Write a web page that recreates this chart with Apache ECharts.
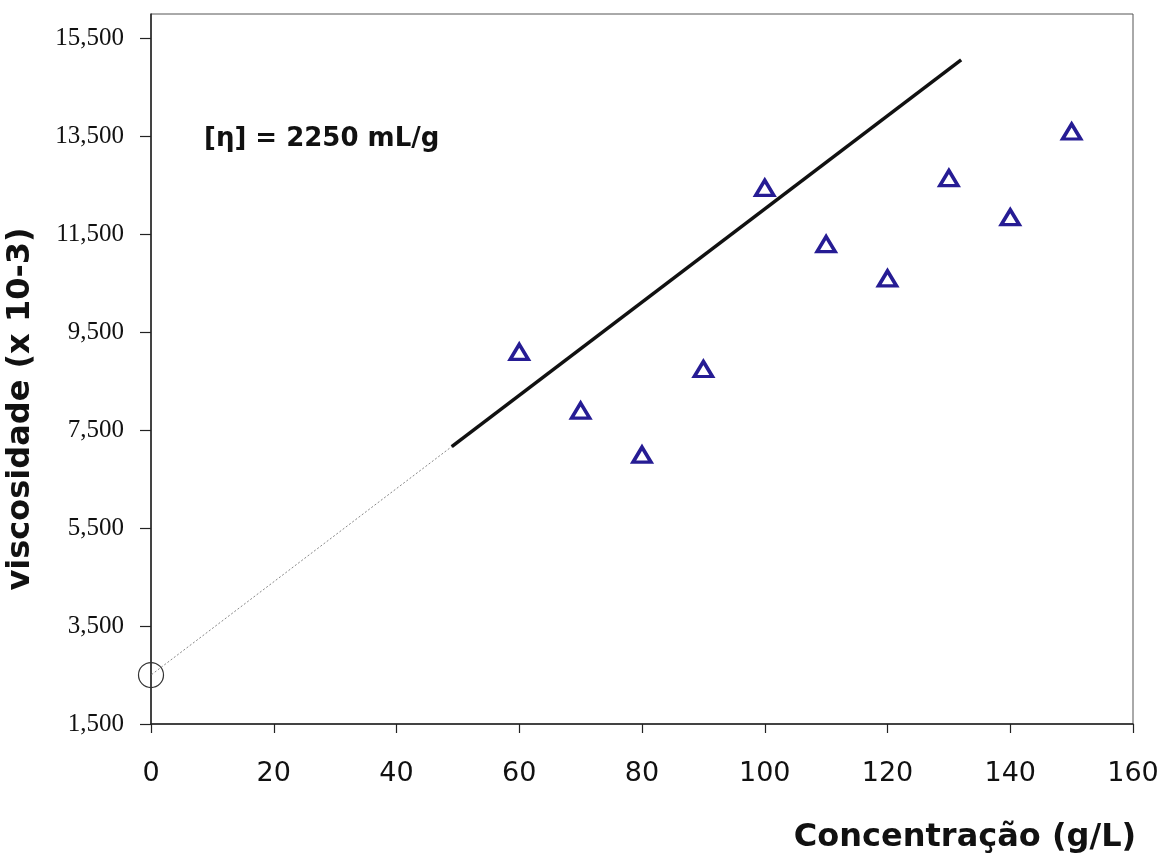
<!DOCTYPE html>
<html>
<head>
<meta charset="utf-8">
<title>viscosidade x concentração</title>
<script src="https://cdn.jsdelivr.net/npm/echarts@6/dist/echarts.min.js"></script>
<style>
    html, body { margin: 0; padding: 0; background: #fff; }
    #chart { width: 1160px; height: 855px; }
</style>
</head>
<body>
<div id="chart"></div>
<script>
// 浓度 (g/L) 与 粘度 读数
var concentracao = [60, 70, 80, 90, 100, 110, 120, 130, 140, 150];
var viscosidade = [9100, 7900, 7000, 8750, 12450, 11300, 10600, 12650, 11850, 13600];

// 拟合直线: 实线段, 外推虚线段, 截距点
var retaSolida = [[49, 7165], [132, 15065]];
var retaExtrapolada = [[-2.5, 2262], [49, 7165]];
var intercepto = [[0, 2500]];

// 坐标轴刻度
var yTicks = [1500, 3500, 5500, 7500, 9500, 11500, 13500, 15500];
var xTicks = [0, 20, 40, 60, 80, 100, 120, 140, 160];

var anotacao = '[η] = 2250 mL/g';

(function (window, echarts) {
    var SANS = '"DejaVu Sans", "Liberation Sans", Arial, sans-serif';
    var SERIF = '"Liberation Serif", "Times New Roman", serif';

    function buildPoints() {
        return concentracao.map(function (c, i) {
            return [c, viscosidade[i]];
        });
    }

    function drawChart(dom) {
        var chart = echarts.init(dom, null, { renderer: 'canvas' });
        chart.setOption({
            animation: false,
            backgroundColor: '#fff',
            grid: {
                left: 151,
                right: 27,
                top: 14,
                bottom: 131,
                containLabel: false,
                outerBoundsMode: 'none',
                show: true,
                borderColor: '#555',
                borderWidth: 1
            },
            xAxis: {
                type: 'value',
                min: xTicks[0],
                max: xTicks[xTicks.length - 1],
                interval: 20,
                name: 'Concentração (g/L)',
                nameLocation: 'middle',
                nameGap: 98,
                nameTextStyle: {
                    fontFamily: SANS,
                    fontWeight: 'bold',
                    fontSize: 32,
                    color: '#111',
                    padding: [0, 0, 0, 646]
                },
                axisLine: { onZero: false, lineStyle: { color: '#222', width: 1.5 } },
                axisTick: { inside: false, length: 9, lineStyle: { color: '#222', width: 1.2 } },
                axisLabel: {
                    margin: 36,
                    fontFamily: SANS,
                    fontSize: 27,
                    color: '#111'
                },
                splitLine: { show: false }
            },
            yAxis: {
                type: 'value',
                min: 1500,
                max: 16000,
                name: 'viscosidade (x 10-3)',
                nameLocation: 'middle',
                nameGap: 114,
                nameTextStyle: {
                    fontFamily: SANS,
                    fontWeight: 'bold',
                    fontSize: 32,
                    color: '#111',
                    padding: [0, 80, 0, 0]
                },
                axisLine: { onZero: false, lineStyle: { color: '#222', width: 1.5 } },
                axisTick: {
                    inside: false,
                    length: 11,
                    customValues: yTicks,
                    lineStyle: { color: '#222', width: 1.2 }
                },
                axisLabel: {
                    margin: 27,
                    customValues: yTicks,
                    fontFamily: SERIF,
                    fontSize: 25,
                    color: '#111',
                    formatter: function (v) {
                        return Number(v).toLocaleString('en-US');
                    }
                },
                splitLine: { show: false }
            },
            graphic: [
                {
                    type: 'text',
                    left: 204,
                    top: 126,
                    style: {
                        text: anotacao,
                        font: 'bold 26px ' + SANS,
                        fill: '#111'
                    }
                }
            ],
            series: [
                {
                    name: 'extrapolada',
                    type: 'line',
                    data: retaExtrapolada,
                    clip: false,
                    showSymbol: false,
                    lineStyle: { color: '#888', width: 1, type: [2, 2] },
                    z: 2
                },
                {
                    name: 'ajuste',
                    type: 'line',
                    data: retaSolida,
                    showSymbol: false,
                    lineStyle: { color: '#111', width: 3.5 },
                    z: 3
                },
                {
                    name: 'intercepto',
                    type: 'scatter',
                    data: intercepto,
                    clip: false,
                    symbol: 'circle',
                    symbolSize: 25,
                    itemStyle: { color: 'rgba(0,0,0,0)', borderColor: '#333', borderWidth: 1.2, opacity: 1 },
                    z: 4
                },
                {
                    name: 'dados',
                    type: 'scatter',
                    data: buildPoints(),
                    symbol: 'triangle',
                    symbolSize: [18, 15],
                    itemStyle: { color: '#fff', borderColor: '#261c94', borderWidth: 3.5, opacity: 1 },
                    z: 5
                }
            ]
        });
        return chart;
    }

    drawChart(document.getElementById('chart'));
})(window, echarts);
</script>
</body>
</html>
